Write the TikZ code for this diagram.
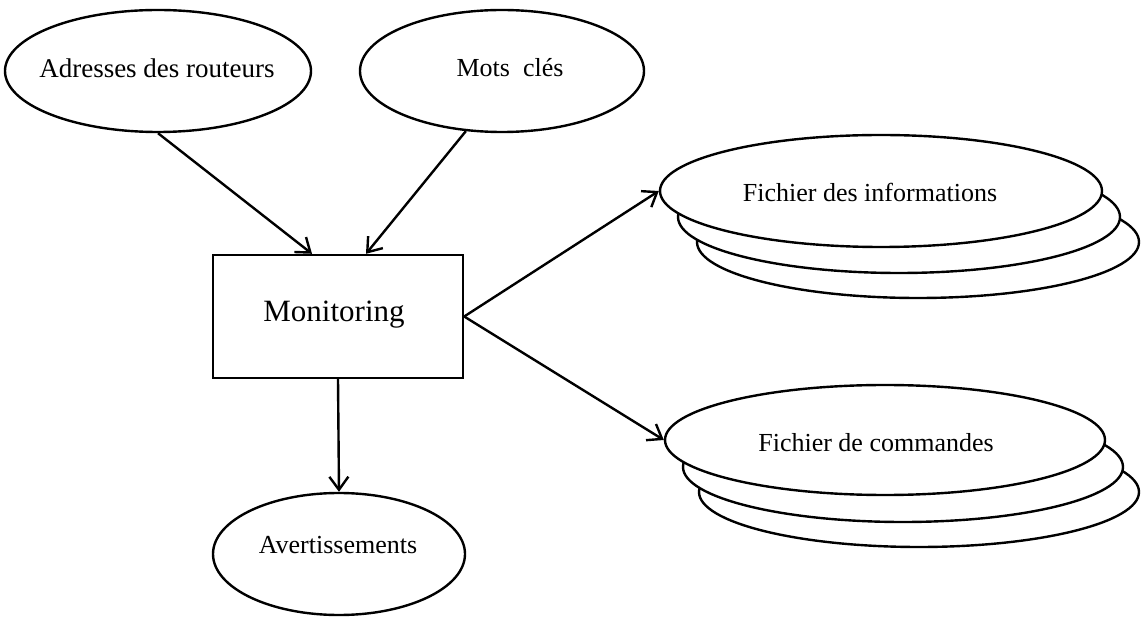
\documentclass[tikz,border=0pt]{standalone}
\usepackage{fontspec}
\setmainfont{Liberation Serif}
\usetikzlibrary{shapes.geometric,arrows.meta}
\begin{document}
\begin{tikzpicture}[x=1pt,y=-1pt,
  oval/.style={ellipse, draw, line width=2.4pt, fill=white, inner sep=0pt},
  box/.style={rectangle, draw, line width=2.4pt, fill=white, inner sep=0pt},
  lbl/.style={anchor=base, inner sep=0pt, font=\fontsize{26}{30}\selectfont},
  flow/.style={line width=2.4pt, -{Straight Barb[length=13pt,width=19pt]}}]
\useasboundingbox[fill=white] (0,0) rectangle (1144,617);

% inputs
\node[oval, minimum width=306pt, minimum height=122pt] (adr) at (158,71) {};
\node[lbl, font=\fontsize{27}{30}\selectfont] (adrt) at (157,78) {Adresses des routeurs};
\node[oval, minimum width=284pt, minimum height=122pt] (mots) at (502,71) {};
\node[lbl] (motst) at (510,77) {Mots\ \ clés};

% process
\node[box, minimum width=250pt, minimum height=123pt] (mon) at (338,316.5) {};
\node[lbl, font=\fontsize{31}{34}\selectfont] (mont) at (334,322) {Monitoring};

% warnings
\node[oval, minimum width=252pt, minimum height=122pt] (avt) at (339,554) {};
\node[lbl] (avtt) at (338,553) {Avertissements};

% stacked output files: information
\node[oval, minimum width=442pt, minimum height=112pt] (fi3) at (918,242) {};
\node[oval, minimum width=442pt, minimum height=112pt] (fi2) at (899,217) {};
\node[oval, minimum width=442pt, minimum height=112pt] (fi1) at (881,191) {};
\node[lbl] (fit) at (870,202) {Fichier des informations};

% stacked output files: commands
\node[oval, minimum width=440pt, minimum height=110pt] (fc3) at (919,492) {};
\node[oval, minimum width=440pt, minimum height=110pt] (fc2) at (903,467) {};
\node[oval, minimum width=440pt, minimum height=110pt] (fc1) at (885,440) {};
\node[lbl] (fct) at (876,452) {Fichier de commandes};

% data flows
\draw[flow] (adr.south) -- ([xshift=-26pt]mon.north);
\draw[flow] (mots.239) -- ([xshift=28pt]mon.north);
\draw[flow] (mon.east) -- (fi1.west);
\draw[flow] (mon.east) -- (fc1.west);
\draw[flow] (mon.south) -- (avt.north);
\end{tikzpicture}
\end{document}
